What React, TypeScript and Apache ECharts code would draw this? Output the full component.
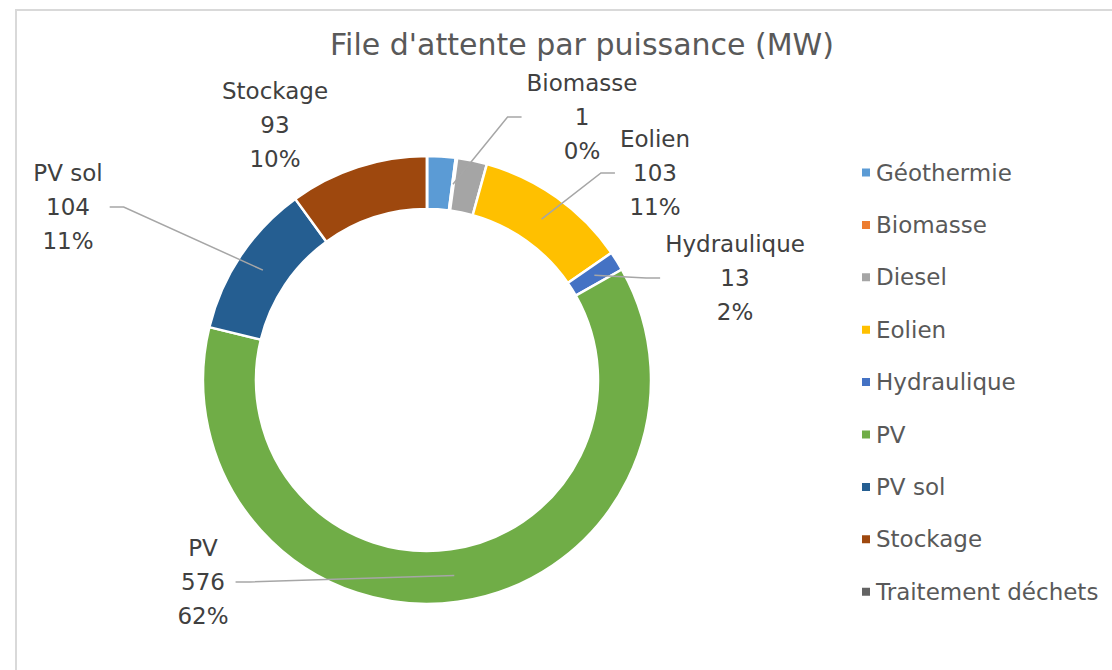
import React, { useEffect, useRef } from "react";
import * as echarts from "echarts";

// ---- data ----
const categories = [
  "Géothermie",
  "Biomasse",
  "Diesel",
  "Eolien",
  "Hydraulique",
  "PV",
  "PV sol",
  "Stockage",
  "Traitement déchets",
];
const values = [19, 1, 20, 103, 13, 576, 104, 93, 0];
const percentLabels = ["2%", "0%", "2%", "11%", "2%", "62%", "11%", "10%", "0%"];
const colors = [
  "#5B9BD5",
  "#ED7D31",
  "#A5A5A5",
  "#FFC000",
  "#4472C4",
  "#70AD47",
  "#255E91",
  "#9E480E",
  "#636363",
];
const showLabel = [false, true, false, true, true, true, true, true, false];
const showLeader = [false, true, false, true, true, true, true, false, false];

// ---- layout ----
const CX = 427;
const CY = 380;
const R_IN = 171;
const R_OUT = 224;
const LABEL_SIZE = 23;
const labelCentres: ([number, number] | null)[] = [
  null,
  [582, 117],
  null,
  [655, 173],
  [735, 278],
  [203, 582],
  [68, 207],
  [275, 125],
  null,
];

const FONT = "'DejaVu Sans', sans-serif";

function labelText(i: number) {
  return `${categories[i]}\n${values[i]}\n${percentLabels[i]}`;
}

function measureWidth(text: string): number {
  const c = document.createElement("canvas").getContext("2d");
  if (!c) return text.length * LABEL_SIZE * 0.6;
  c.font = `${LABEL_SIZE}px ${FONT}`;
  return Math.max(...text.split("\n").map((t) => c.measureText(t).width));
}

export default function App() {
  const ref = useRef<HTMLDivElement>(null);
  useEffect(() => {
    if (!ref.current) return;
    const chart = echarts.init(ref.current, undefined, { renderer: "svg" });
    const total = values.reduce((a, b) => a + b, 0);

    // leader lines, from each label to the middle of its slice
    const leaders: any[] = [];
    let before = 0;
    values.forEach((v, i) => {
      const pos = labelCentres[i];
      if (pos && showLeader[i]) {
        const mid = ((before + v / 2) / total) * Math.PI * 2;
        const rMid = (R_IN + R_OUT) / 2;
        const ax = CX + rMid * Math.sin(mid);
        const ay = CY - rMid * Math.cos(mid);
        const [lx, ly] = pos;
        const w = measureWidth(labelText(i));
        const toRight = ax > lx;
        const sx = toRight ? lx + w / 2 + 7 : lx - w / 2 - 5;
        const ex = toRight ? sx + 14 : sx - 14;
        leaders.push({
          type: "polyline",
          shape: {
            points: [
              [sx, ly],
              [ex, ly],
              [ax, ay],
            ],
          },
          style: { stroke: "#A6A6A6", lineWidth: 1.5, fill: null },
          z: 100,
          silent: true,
        });
      }
      before += v;
    });

    const option: any = {
      animation: false,
      backgroundColor: "#ffffff",
      title: {
        text: "File d'attente par puissance (MW)",
        left: 577,
        top: 24,
        textAlign: "center",
        textStyle: {
          fontFamily: FONT,
          fontSize: 30,
          fontWeight: "normal",
          color: "#595959",
        },
      },
      legend: {
        orient: "vertical",
        left: 855,
        top: 156,
        itemWidth: 10,
        itemHeight: 10,
        itemGap: 29.4,
        icon: "rect",
        data: categories,
        textStyle: {
          fontFamily: FONT,
          fontSize: 23,
          lineHeight: 23,
          color: "#595959",
        },
      },
      graphic: [
        {
          type: "rect",
          shape: { x: 16, y: 10, width: 1200, height: 800 },
          style: { fill: "none", stroke: "#D9D9D9", lineWidth: 2 },
          silent: true,
        },
        ...leaders,
      ],
      series: [
        {
          type: "pie",
          center: [CX, CY],
          radius: [R_IN, R_OUT],
          startAngle: 90,
          clockwise: true,
          avoidLabelOverlap: false,
          itemStyle: { borderColor: "#ffffff", borderWidth: 2.5 },
          emphasis: { disabled: true },
          label: {
            show: true,
            position: "outside",
            fontFamily: FONT,
            fontSize: LABEL_SIZE,
            lineHeight: 34,
            color: "#404040",
            align: "center",
            formatter: (p: any) => labelText(p.dataIndex),
          },
          labelLine: { show: false },
          labelLayout: (params: any) => {
            const pos = labelCentres[params.dataIndex];
            if (!pos) return {};
            return {
              x: pos[0],
              y: pos[1],
              align: "center",
              verticalAlign: "middle",
            };
          },
          data: categories.map((name, i) => ({
            name,
            value: values[i],
            itemStyle: { color: colors[i] },
            label: { show: showLabel[i] },
          })),
        },
      ],
    };
    chart.setOption(option);
    return () => chart.dispose();
  }, []);
  return (
    <div
      ref={ref}
      style={{
        position: "fixed",
        left: 0,
        top: 0,
        width: 1112,
        height: 670,
        background: "#fff",
      }}
    />
  );
}
